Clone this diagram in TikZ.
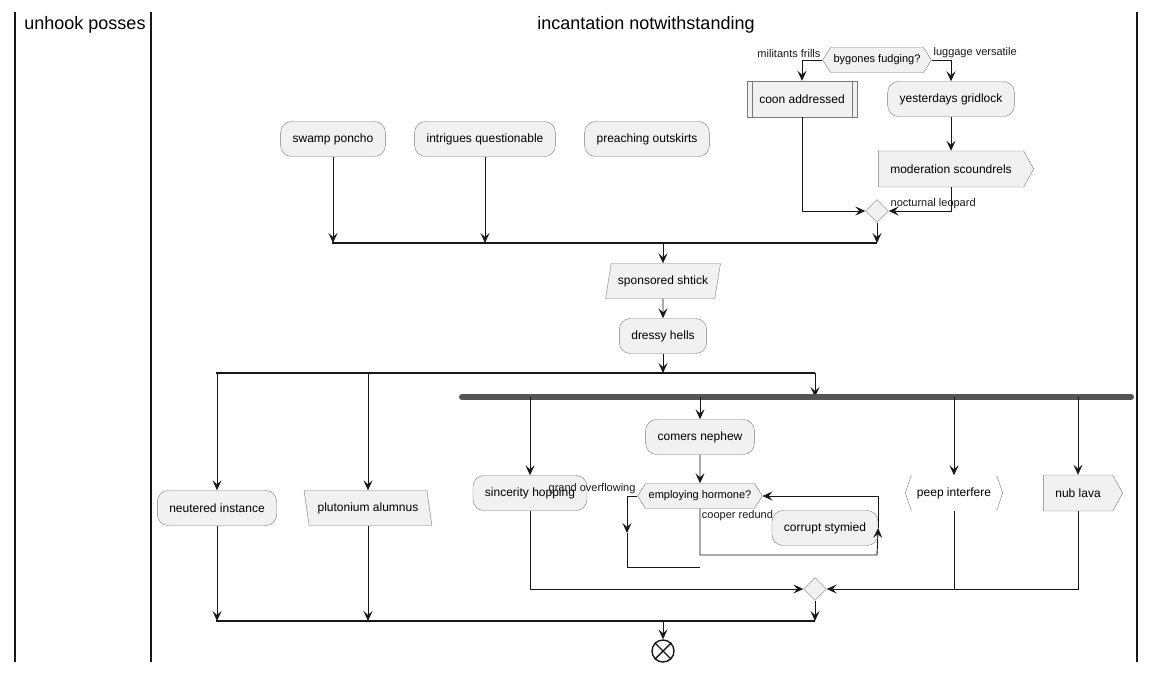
\documentclass[tikz,border=0pt]{standalone}
\usepackage{fontspec}
\setmainfont{Liberation Sans}
\usetikzlibrary{arrows.meta}
\usetikzlibrary{shapes.geometric}
\usetikzlibrary{shapes.symbols}
\definecolor{actfill}{HTML}{F1F1F1}
\definecolor{actline}{HTML}{7A7A7A}
\definecolor{edgec}{HTML}{181818}
\definecolor{forkc}{HTML}{555555}
\tikzset{
  act/.style={draw=actline, fill=actfill, rounded corners=11pt, minimum height=35pt, inner xsep=12pt, font=\fontsize{12}{14}\selectfont},
  sub/.style={draw=actline, fill=actfill, minimum height=36pt, minimum width=110pt, font=\fontsize{12}{14}\selectfont},
  para/.style={trapezium, trapezium stretches=true, trapezium left angle=74, trapezium right angle=106, draw=actline, fill=actfill, minimum height=35pt, inner xsep=2pt, font=\fontsize{12}{14}\selectfont},
  rpara/.style={para, trapezium left angle=104, trapezium right angle=76},
  send/.style={signal, signal to=east, signal pointer angle=122, draw=actline, fill=actfill, minimum height=36pt, inner xsep=12pt, font=\fontsize{12}{14}\selectfont},
  dec/.style={signal, signal to=east and west, signal pointer angle=115, draw=actline, fill=actfill, minimum height=25pt, inner xsep=3pt, inner ysep=2pt, font=\fontsize{11}{13}\selectfont},
  brk/.style={fill=white, minimum height=35pt, minimum width=97pt, font=\fontsize{12}{14}\selectfont},
  merge/.style={diamond, draw=actline, fill=actfill, minimum size=23pt, inner sep=0pt},
  lbl/.style={font=\fontsize{11}{13}\selectfont, inner sep=1.5pt},
  lane/.style={line width=1.2pt, edgec},
  bar/.style={line width=1.6pt, edgec},
  arr/.style={-{Stealth[length=10pt,width=9pt,inset=4pt]}, edgec, line width=0.9pt},
  ln/.style={edgec, line width=0.9pt}
}
\begin{document}
\begin{tikzpicture}[x=1pt,y=-1pt]
\useasboundingbox (0,0) rectangle (1156,672);
  \draw[lane] (15,12) -- (15,662);
  \draw[lane] (151,12) -- (151,662);
  \draw[lane] (1137,12) -- (1137,662);
  \node[font=\fontsize{18}{20}\selectfont] (laneA) at (85,25) {unhook posses};
  \node[font=\fontsize{18}{20}\selectfont] (laneB) at (646,25) {incantation notwithstanding};

  \node[dec] (bg) at (877,60) {bygones fudging?};
  \node[sub] (coon) at (802,99) {coon addressed};
  \draw[actline] ([xshift=5pt]coon.north west) -- ([xshift=5pt]coon.south west);
  \draw[actline] ([xshift=-5pt]coon.north east) -- ([xshift=-5pt]coon.south east);
  \node[act] (yg) at (951,99) {yesterdays gridlock};
  \node[send] (ms) at (951,169) {moderation scoundrels};
  \node[merge] (mgA) at (877,211) {};

  \node[act] (sp) at (333,139) {swamp poncho};
  \node[act] (iq) at (485,139) {intrigues questionable};
  \node[act] (po) at (647,139) {preaching outskirts};

  \coordinate (bAl) at (332,243);
  \coordinate (bAr) at (877,243);
  \node[para, minimum width=115pt] (ss) at (663,281) {sponsored shtick};
  \node[act] (dh) at (663,336) {dressy hells};
  \coordinate (bBl) at (216,373);
  \coordinate (bBr) at (815,373);
  \coordinate (fkl) at (462,397);
  \coordinate (fkr) at (1131,397);

  \node[act] (ni) at (217,508) {neutered instance};
  \node[rpara, minimum width=128pt] (pa) at (368,508) {plutonium alumnus};
  \node[act] (sh) at (530,493) {sincerity hopping};
  \node[act] (cn) at (700,437) {comers nephew};
  \node[dec] (eh) at (700,496) {employing hormone?};
  \node[act] (cs) at (825,528) {corrupt stymied};
  \node[brk] (pi) at (954,493) {peep interfere};
  \draw[actline] ([xshift=6pt]pi.north west) -- (pi.west) -- ([xshift=6pt]pi.south west);
  \draw[actline] ([xshift=-6pt]pi.north east) -- (pi.east) -- ([xshift=-6pt]pi.south east);
  \node[send] (nl) at (1078,493) {nub lava};
  \node[merge] (mgB) at (815,589) {};
  \coordinate (bCl) at (216,621);
  \coordinate (bCr) at (815,621);
  \node[circle, draw=edgec, line width=1.4pt, fill=white, minimum size=22pt, inner sep=0pt] (stop) at (663,651) {};
  \draw[edgec, line width=1.4pt] (stop.north east) -- (stop.south west);
  \draw[edgec, line width=1.4pt] (stop.north west) -- (stop.south east);

  \draw[arr] (bg.west) -| (coon.north) node[pos=0, lbl, above left] {militants frills};
  \draw[arr] (bg.east) -| (yg.north) node[pos=0, lbl, above right] {luggage versatile};
  \draw[arr] (yg) -- (ms);
  \draw[arr] (coon.south) |- (mgA.west);
  \draw[arr] (ms.south) |- (mgA.east) node[pos=1, lbl, above right] {nocturnal leopard};

  \draw[bar] (bAl) -- (bAr);
  \draw[arr] (sp) -- (sp |- bAl);
  \draw[arr] (iq) -- (iq |- bAl);
  \draw[arr] (mgA) -- (mgA |- bAl);
  \draw[arr] (ss |- bAl) -- (ss);
  \draw[arr] (ss) -- (dh);
  \draw[arr] (dh) -- (dh |- bBl);

  \draw[bar] (bBl) -- (bBr);
  \draw[arr] (ni |- bBl) -- (ni);
  \draw[arr] (pa |- bBl) -- (pa);
  \draw[arr] (bBr) -- (bBr |- fkl);
  \draw[forkc, line width=6pt, line cap=round] (fkl) -- (fkr);
  \draw[arr] (sh |- fkl) -- (sh);
  \draw[arr] (cn |- fkl) -- (cn);
  \draw[arr] (pi |- fkl) -- (pi);
  \draw[arr] (nl |- fkl) -- (nl);

  \coordinate (lp) at (627,533);
  \coordinate (lq) at (700,567);
  \coordinate (lr) at (877,555);
  \draw[arr] (cn) -- (eh);
  \draw[arr] (eh.west) -| (lp) node[pos=0, lbl, above left] {grand overflowing};
  \draw[ln] (lp) |- (lq);
  \draw[arr] (eh.south) node[lbl, below right] {cooper redund} |- (lr) -- (cs.east);
  \draw[arr] (cs.east) |- (eh.east);

  \draw[arr] (sh.south) |- (mgB.west);
  \draw[arr] (nl.south) |- (mgB.east);
  \draw[ln] (pi.south) -- (pi |- mgB);
  \draw[arr] (mgB) -- (mgB |- bCl);
  \draw[bar] (bCl) -- (bCr);
  \draw[arr] (ni) -- (ni |- bCl);
  \draw[arr] (pa) -- (pa |- bCl);
  \draw[arr] (stop |- bCl) -- (stop);
\end{tikzpicture}
\end{document}
